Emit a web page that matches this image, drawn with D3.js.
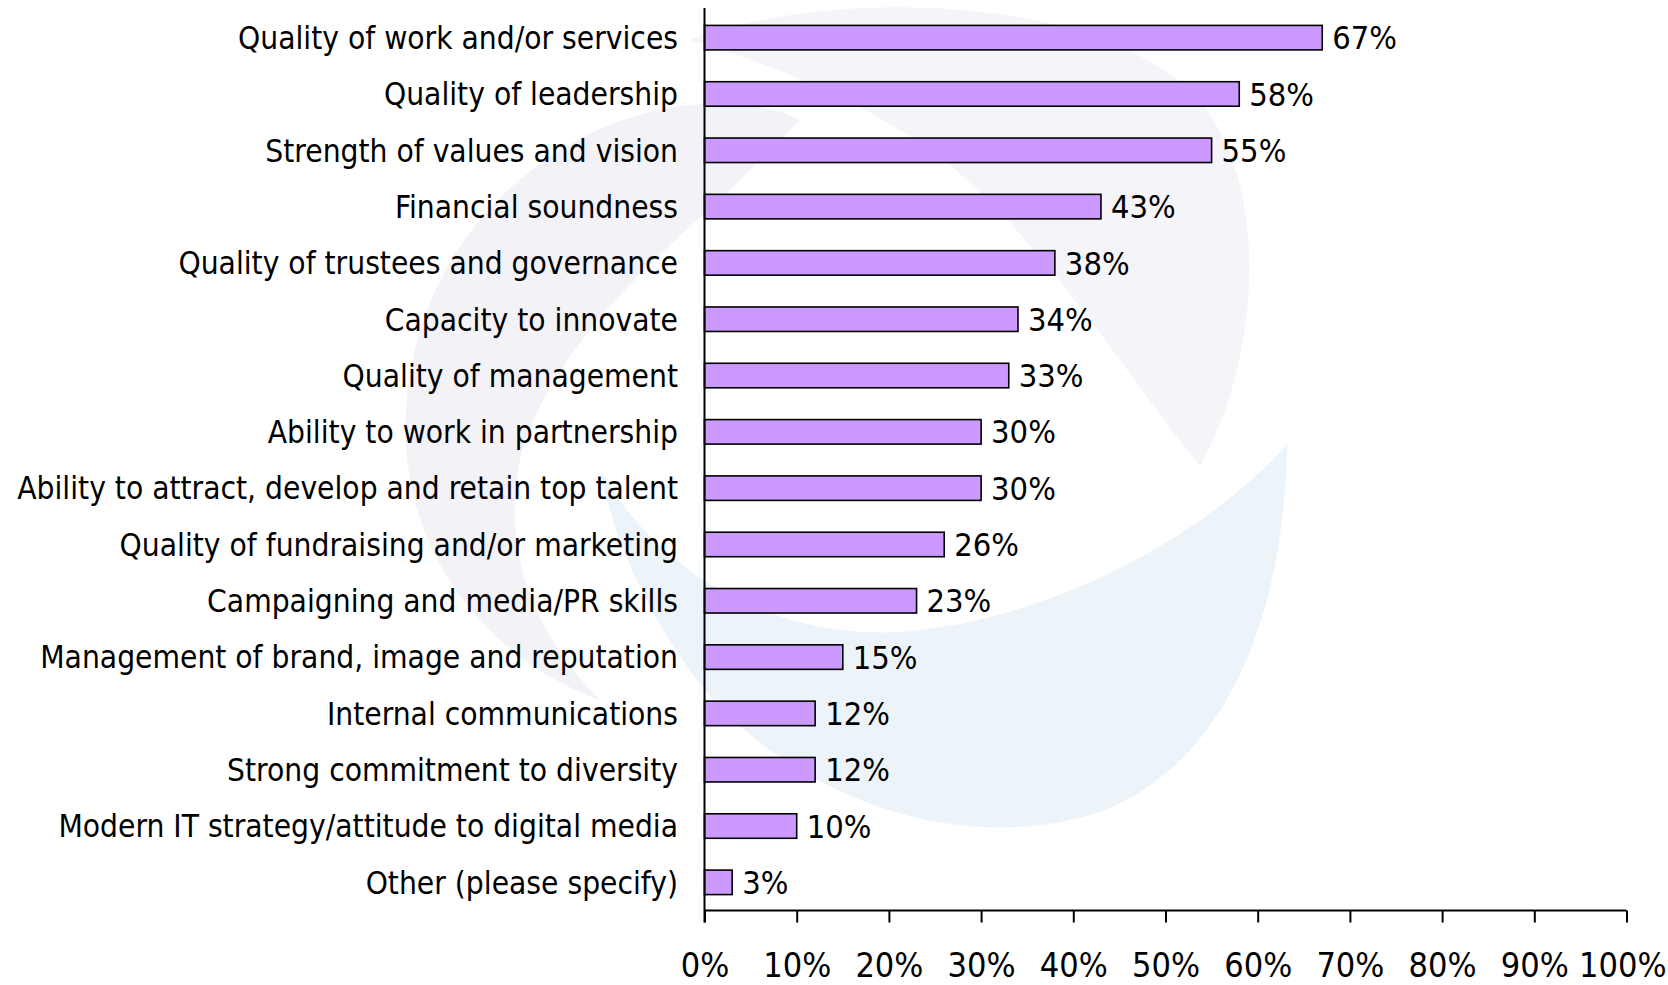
<!DOCTYPE html>
<html>
<head>
<meta charset="utf-8">
<script src="https://cdn.jsdelivr.net/npm/d3@7"></script>
<style>
  html, body { margin: 0; padding: 0; background: #ffffff; }
  svg { display: block; }
  text { font-family: "DejaVu Sans Condensed", "DejaVu Sans", sans-serif; font-stretch: condensed; fill: #000; }
</style>
</head>
<body>
<svg id="chart" width="1668" height="985"></svg>
<script>
// Survey: attributes respondents rate most important
const categories = [
  "Quality of work and/or services",
  "Quality of leadership",
  "Strength of values and vision",
  "Financial soundness",
  "Quality of trustees and governance",
  "Capacity to innovate",
  "Quality of management",
  "Ability to work in partnership",
  "Ability to attract, develop and retain top talent",
  "Quality of fundraising and/or marketing",
  "Campaigning and media/PR skills",
  "Management of brand, image and reputation",
  "Internal communications",
  "Strong commitment to diversity",
  "Modern IT strategy/attitude to digital media",
  "Other (please specify)"
];
const values = [67, 58, 55, 43, 38, 34, 33, 30, 30, 26, 23, 15, 12, 12, 10, 3];
const tickValues = [0, 10, 20, 30, 40, 50, 60, 70, 80, 90, 100];
const tickLabels = ["0%", "10%", "20%", "30%", "40%", "50%", "60%", "70%", "80%", "90%", "100%"];

const W = 1668, H = 985;
const plot = { left: 704.5, right: 1626.5, top: 9.5, bottom: 910.5 };

const svg = d3.select("#chart");

// Faint background emblem: two lavender blades and one pale blue blade
const emblem = svg.append("g").attr("class", "emblem");
emblem.append("path")
  .attr("fill", "#f3f2f7")
  .attr("d", "M800,120 C740,90 640,100 560,150 C450,220 402,330 406,440 C410,560 490,660 600,700 " +
             "C540,640 500,560 520,460 C545,360 640,270 720,200 C750,170 780,140 800,120 Z");
emblem.append("path")
  .attr("fill", "#f5f4f8")
  .attr("d", "M690,40 C820,-10 1080,-10 1190,90 C1270,170 1265,350 1200,466 " +
             "C1130,380 1050,250 950,165 C880,110 790,70 690,40 Z");
emblem.append("path")
  .attr("fill", "#ecf3f9")
  .attr("d", "M600,470 C650,560 760,640 900,632 C1050,620 1200,540 1287,445 " +
             "C1285,600 1235,760 1100,812 C950,860 790,790 705,690 C650,620 615,545 600,470 Z");

const x = d3.scaleLinear().domain([0, 100]).range([plot.left, plot.right]);
const y = d3.scaleBand()
  .domain(categories)
  .range([plot.top, plot.bottom])
  .paddingInner(0.565)
  .paddingOuter(0.2825);

// Bars
svg.append("g")
  .selectAll("rect")
  .data(values)
  .join("rect")
  .attr("x", x(0))
  .attr("y", (d, i) => y(categories[i]))
  .attr("width", d => x(d) - x(0))
  .attr("height", y.bandwidth())
  .attr("fill", "#cc99ff")
  .attr("stroke", "#000")
  .attr("stroke-width", 1.6);

// Category labels, sized so the longest one fills the left margin
const labelRight = 678;
const labelSpan = 661;
const catG = svg.append("g");
const cats = catG.selectAll("text")
  .data(categories)
  .join("text")
  .attr("x", labelRight)
  .attr("y", d => y(d) + y.bandwidth() / 2)
  .attr("dy", "0.36em")
  .attr("text-anchor", "end")
  .style("font-size", "30px")
  .text(d => d);
let longest = 0;
cats.each(function () { longest = Math.max(longest, this.getComputedTextLength()); });
const catSize = 30 * labelSpan / longest;
cats.style("font-size", catSize + "px");

// Value labels
svg.append("g")
  .selectAll("text")
  .data(values)
  .join("text")
  .attr("x", d => x(d) + 10)
  .attr("y", (d, i) => y(categories[i]) + y.bandwidth() / 2)
  .attr("dy", "0.36em")
  .style("font-size", (catSize * 1.03) + "px")
  .text(d => d + "%");

// Axes
const xAxis = d3.axisBottom(x)
  .tickValues(tickValues)
  .tickSize(12)
  .tickPadding(0)
  .tickFormat((d, i) => tickLabels[i]);
const gx = svg.append("g")
  .attr("transform", `translate(0,${plot.bottom})`)
  .call(xAxis);
gx.select(".domain").attr("stroke", "#000").attr("stroke-width", 2).attr("d", `M${plot.left},0H${plot.right}`);
gx.selectAll(".tick line").attr("stroke", "#000").attr("stroke-width", 2);
gx.selectAll(".tick text")
  .attr("y", 66)
  .attr("dy", 0)
  .style("font-size", "34px")
  .style("font-family", "\"DejaVu Sans Condensed\", \"DejaVu Sans\", sans-serif")
  .attr("fill", "#000");
// the last label is pushed left so it ends at the page edge
gx.selectAll(".tick text").filter(d => d === 100)
  .attr("text-anchor", "end")
  .attr("x", function () { return (W - 2) - x(100); });

svg.append("line")
  .attr("x1", plot.left).attr("x2", plot.left)
  .attr("y1", 8).attr("y2", plot.bottom + 12)
  .attr("stroke", "#000").attr("stroke-width", 2);
</script>
</body>
</html>
